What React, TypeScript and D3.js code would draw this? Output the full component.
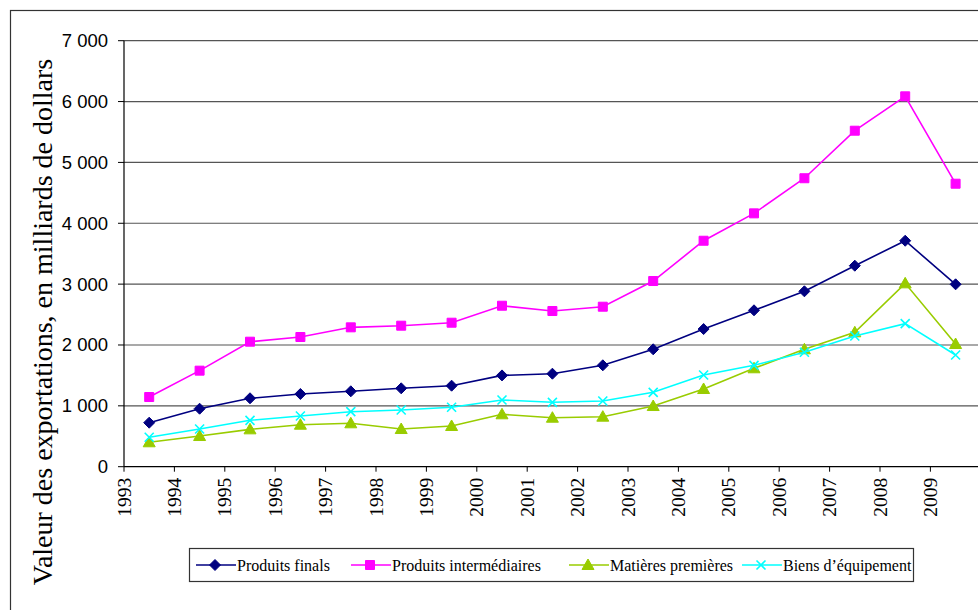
import React from "react";
import * as d3 from "d3";

const years = [
  "1993", "1994", "1995", "1996", "1997", "1998", "1999", "2000", "2001",
  "2002", "2003", "2004", "2005", "2006", "2007", "2008", "2009",
];

const produitsFinals = [
  723, 953, 1124, 1195, 1239, 1288, 1331, 1500, 1528, 1666, 1929, 2262, 2570,
  2882, 3303, 3713, 2997,
];
const produitsIntermediaires = [
  1145, 1578, 2054, 2131, 2290, 2317, 2366, 2645, 2558, 2629, 3051, 3713, 4163,
  4740, 5521, 6086, 4650,
];
const matieresPremieres = [
  401, 504, 614, 690, 713, 619, 669, 861, 805, 822, 997, 1277, 1617, 1929, 2208,
  3013, 2016,
];
const biensEquipement = [
  483, 619, 762, 833, 904, 932, 976, 1096, 1058, 1080, 1222, 1507, 1666, 1880,
  2148, 2350, 1835,
];

const yTicks = [0, 1000, 2000, 3000, 4000, 5000, 6000, 7000];

const series = [
  { name: "Produits finals", values: produitsFinals, color: "#000080", marker: "diamond" },
  { name: "Produits intermédiaires", values: produitsIntermediaires, color: "#FF00FF", marker: "square" },
  { name: "Matières premières", values: matieresPremieres, color: "#99CC00", marker: "triangle" },
  { name: "Biens d\u2019équipement", values: biensEquipement, color: "#00FFFF", marker: "cross" },
];

const legendX = [196, 351, 569, 742];

const SERIF = "'Liberation Serif', 'Times New Roman', serif";
const SANS = "'Liberation Sans', Arial, sans-serif";

const fmt = d3.formatLocale({ thousands: " ", grouping: [3], decimal: ",", currency: ["", ""] }).format(",d");

const markerPath = (type: string) => {
  if (type === "diamond") return "M0,-5.5L5.5,0L0,5.5L-5.5,0Z";
  if (type === "square") return "M-4.5,-4.5H4.5V4.5H-4.5Z";
  if (type === "triangle") return "M0,-6L6,4.5L-6,4.5Z";
  return "M-4.5,-4.5L4.5,4.5M-4.5,4.5L4.5,-4.5";
};

const Marker = ({ type, color, x, y }: any) => (
  <path
    d={markerPath(type)}
    transform={`translate(${x},${y})`}
    fill={type === "cross" ? "none" : color}
    stroke={color}
    strokeWidth={type === "cross" ? 1.6 : 1}
  />
);

const App = () => {
  const width = 978;
  const height = 610;

  const x = d3.scaleBand().domain(years).range([124, 124 + 17 * 50.4]).paddingInner(0).paddingOuter(0);
  const y = d3.scaleLinear().domain([0, 7000]).range([466.7, 40.7]);
  const bw = x.bandwidth();

  const line = d3
    .line<number>()
    .x((d, i) => (x(years[i]) as number) + bw / 2)
    .y((d) => y(d));

  const x0 = 124;
  const xEnd = 990;

  return (
    <svg
      width={width}
      height={height}
      style={{ position: "absolute", left: 0, top: 0, background: "#fff" }}
    >
      <rect x={0} y={0} width={width} height={height} fill="#fff" />
      <rect x={10.5} y={10.5} width={1000} height={700} fill="none" stroke="#333" strokeWidth={1.2} />

      {/* gridlines */}
      {yTicks.slice(1).map((t) => (
        <line key={t} x1={x0} x2={xEnd} y1={y(t)} y2={y(t)} stroke="#555" strokeWidth={1.2} />
      ))}

      {/* y axis */}
      <line x1={x0} x2={x0} y1={y(7000)} y2={y(0)} stroke="#000" strokeWidth={1.2} />
      {yTicks.map((t) => (
        <g key={t}>
          <line x1={118} x2={x0} y1={y(t)} y2={y(t)} stroke="#000" strokeWidth={1} />
          <text
            x={108}
            y={y(t)}
            textAnchor="end"
            dominantBaseline="central"
            fontFamily={SANS}
            fontSize={18.5}
          >
            {fmt(t)}
          </text>
        </g>
      ))}

      {/* x axis */}
      <line x1={x0} x2={xEnd} y1={y(0)} y2={y(0)} stroke="#000" strokeWidth={1.2} />
      {years.map((yr) => (
        <g key={yr}>
          <line x1={x(yr)} x2={x(yr)} y1={y(0)} y2={y(0) + 5} stroke="#000" strokeWidth={1} />
          <text
            transform={`translate(${x(yr)},${y(0) + 11}) rotate(-90)`}
            textAnchor="end"
            dominantBaseline="central"
            fontFamily={SERIF}
            fontSize={19.5}
          >
            {yr}
          </text>
        </g>
      ))}

      {/* axis title */}
      <text
        transform={`translate(42,${322}) rotate(-90)`}
        textAnchor="middle"
        dominantBaseline="central"
        fontFamily={SERIF}
        fontSize={28}
      >
        Valeur des exportations, en milliards de dollars
      </text>

      {/* series */}
      {series.map((s) => (
        <g key={s.name}>
          <path d={line(s.values) || ""} fill="none" stroke={s.color} strokeWidth={1.6} />
          {s.values.map((v, i) => (
            <Marker key={i} type={s.marker} color={s.color} x={(x(years[i]) as number) + bw / 2} y={y(v)} />
          ))}
        </g>
      ))}

      {/* legend */}
      <rect x={189.5} y={548.5} width={724} height={33} fill="#fff" stroke="#333" strokeWidth={1.2} />
      {series.map((s, i) => (
        <g key={s.name}>
          <line x1={legendX[i]} x2={legendX[i] + 40} y1={565} y2={565} stroke={s.color} strokeWidth={1.6} />
          <Marker type={s.marker} color={s.color} x={legendX[i] + 19} y={565} />
          <text
            x={legendX[i] + 41}
            y={565}
            dominantBaseline="central"
            fontFamily={SERIF}
            fontSize={16}
          >
            {s.name}
          </text>
        </g>
      ))}
    </svg>
  );
};

export default App;
